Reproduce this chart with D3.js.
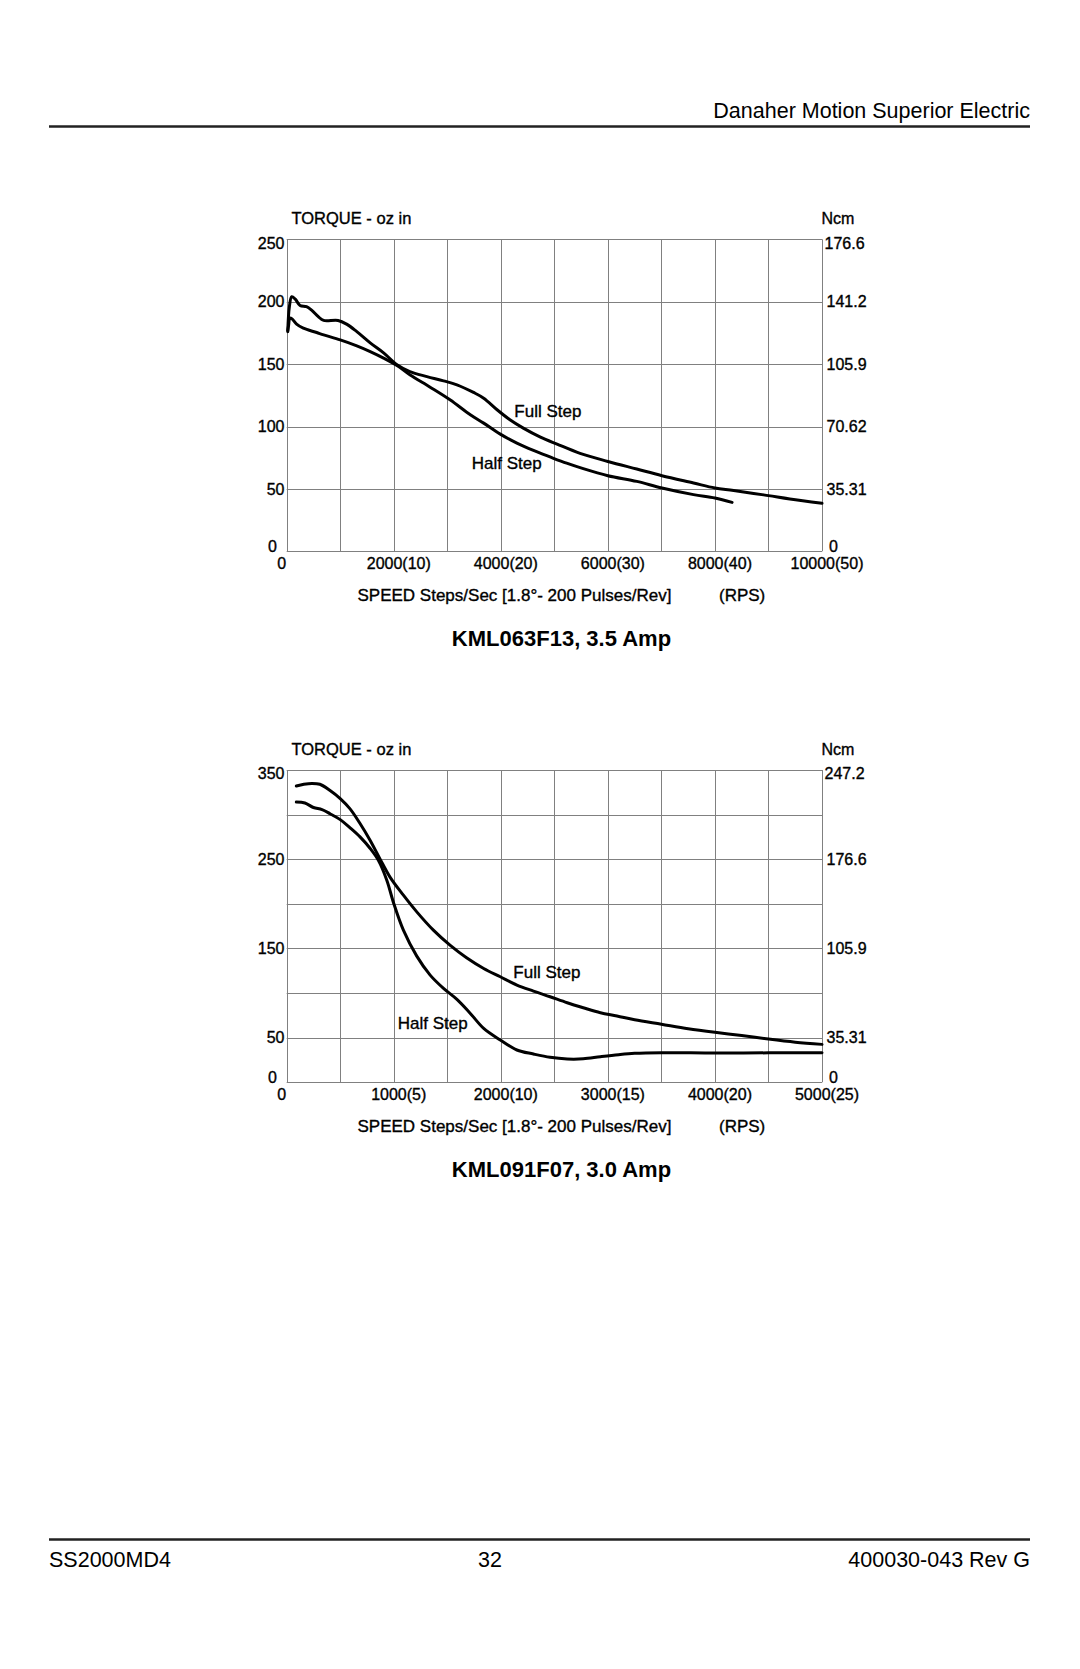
<!DOCTYPE html>
<html>
<head>
<meta charset="utf-8">
<script src="https://cdn.jsdelivr.net/npm/d3@7"></script>
<style>
  html, body { margin: 0; padding: 0; background: #fff; }
  svg { display: block; }
  text { font-family: "Liberation Sans", Arial, sans-serif; fill: #000; }
  .chart text { stroke: #000; stroke-width: 0.35px; }
  .chart text.title { stroke: none; }
</style>
</head>
<body>
<svg id="page" width="1080" height="1669"></svg>
<script>
// ---------------- DATA ----------------
const headerText = "Danaher Motion Superior Electric";
const footerLeft = "SS2000MD4";
const footerCenter = "32";
const footerRight = "400030-043 Rev G";

// Chart 1: KML063F13, 3.5 Amp
const chart1Title = "KML063F13, 3.5 Amp";
const chart1XDomain = [0, 10000];
const chart1YDomain = [0, 250];
const chart1XGrid = [0, 1000, 2000, 3000, 4000, 5000, 6000, 7000, 8000, 9000, 10000];
const chart1YGrid = [0, 50, 100, 150, 200, 250];
const chart1XTicks = [0, 2000, 4000, 6000, 8000, 10000];
const chart1XTickLabels = ["0", "2000(10)", "4000(20)", "6000(30)", "8000(40)", "10000(50)"];
const chart1YTicks = [0, 50, 100, 150, 200, 250];
const chart1YTickLabels = ["0", "50", "100", "150", "200", "250"];
const chart1NcmLabels = ["0", "35.31", "70.62", "105.9", "141.2", "176.6"];
const chart1FullStep = [
  [20,176],[50,196],[95,204],[160,202],[250,197],[370,196],[470,193],[590,188],[690,185],
  [960,185],[1120,182],[1310,176],[1560,167],[1810,159],[2060,149.5],[2300,144],[2620,140],
  [2930,136.6],[3180,133.4],[3490,127.3],[3680,122.7],[3930,113.4],[4170,105.4],[4420,98.7],
  [4740,91.5],[5050,85.9],[5480,78.5],[6000,72],[6540,65.9],[7010,60.6],[7600,54.7],
  [8000,50.7],[8350,48.8],[9000,44.6],[9400,41.9],[10000,38.5]
];
const chart1HalfStep = [
  [20,177],[35,181],[60,187],[105,186],[185,182],[310,178.8],[560,175.3],[690,173.4],
  [1000,169.4],[1310,164.6],[1560,160],[1810,154.8],[2060,148.9],[2300,141.4],[2680,131.5],
  [3050,121.4],[3430,109.4],[3680,102.7],[3990,93.9],[4300,86.7],[4610,80.8],[4920,75.6],
  [5230,70.6],[5540,66.2],[6000,60.6],[6540,56],[7010,50.7],[7600,45.4],[8000,42.7],[8320,39.2]
];

// Chart 2: KML091F07, 3.0 Amp
const chart2Title = "KML091F07, 3.0 Amp";
const chart2XDomain = [0, 5000];
const chart2YDomain = [0, 350];
const chart2XGrid = [0, 500, 1000, 1500, 2000, 2500, 3000, 3500, 4000, 4500, 5000];
const chart2YGrid = [0, 50, 100, 150, 200, 250, 300, 350];
const chart2XTicks = [0, 1000, 2000, 3000, 4000, 5000];
const chart2XTickLabels = ["0", "1000(5)", "2000(10)", "3000(15)", "4000(20)", "5000(25)"];
const chart2YTicks = [0, 50, 150, 250, 350];
const chart2YTickLabels = ["0", "50", "150", "250", "350"];
const chart2NcmLabels = ["0", "35.31", "105.9", "176.6", "247.2"];
const chart2FullStep = [
  [90,332],[160,334],[235,335],[310,334],[405,327],[500,318],[590,306.7],[685,290],[780,271],
  [870,250.7],[965,230],[1090,209.7],[1215,191],[1370,170.5],[1525,153.7],[1680,139.6],
  [1840,127.6],[1995,118.3],[2150,109],[2305,102.2],[2460,95.9],[2620,89.2],[2770,83.6],
  [2930,78],[3085,74.3],[3250,70],[3500,65],[3750,60],[4000,56],[4250,52.5],[4500,48.5],
  [4750,45],[5000,42.5]
];
const chart2HalfStep = [
  [90,314],[170,313],[250,308],[330,305.6],[405,301],[500,294.4],[590,285.4],[685,275],
  [780,262],[855,249],[935,226.5],[1000,200.4],[1090,170.5],[1215,141.4],[1340,120.1],
  [1465,105.2],[1590,92.9],[1715,77.2],[1840,60.4],[1995,47.4],[2150,36.2],[2305,31.7],
  [2460,28],[2620,26.1],[2770,26.3],[2930,28.7],[3100,31],[3250,32.5],[3500,33.2],
  [4000,32.8],[4500,33],[5000,33]
];

const yAxisTitle = "TORQUE - oz in";
const yAxisRightTitle = "Ncm";
const xAxisTitle = "SPEED Steps/Sec [1.8°- 200 Pulses/Rev]";
const xAxisUnit = "(RPS)";
const fullStepLabel = "Full Step";
const halfStepLabel = "Half Step";

// ---------------- LAYOUT ----------------
const svg = d3.select("#page");
const gridColor = "#808080";

// Header / footer
svg.append("text").attr("x", 1030).attr("y", 118).attr("text-anchor", "end")
  .style("font-size", "21.5px").text(headerText);
svg.append("line").attr("x1", 49).attr("x2", 1030).attr("y1", 126.5).attr("y2", 126.5)
  .attr("stroke", "#222").attr("stroke-width", 2.5);
svg.append("line").attr("x1", 49).attr("x2", 1030).attr("y1", 1539.5).attr("y2", 1539.5)
  .attr("stroke", "#222").attr("stroke-width", 2.5);
svg.append("text").attr("x", 49).attr("y", 1566.5).style("font-size", "21.5px").text(footerLeft);
svg.append("text").attr("x", 490).attr("y", 1566.5).attr("text-anchor", "middle").style("font-size", "21.5px").text(footerCenter);
svg.append("text").attr("x", 1030).attr("y", 1566.5).attr("text-anchor", "end").style("font-size", "21.5px").text(footerRight);

function drawChart(cfg) {
  const left = 286.7, right = 822, top = cfg.top, bottom = cfg.bottom;
  const x = d3.scaleLinear().domain(cfg.xDomain).range([left, right]);
  const y = d3.scaleLinear().domain(cfg.yDomain).range([bottom, top]);
  const g = svg.append("g").attr("class", "chart");

  // grid
  g.selectAll("line.vg").data(cfg.xGrid).enter().append("line")
    .attr("x1", d => Math.round(x(d)) + 0.5).attr("x2", d => Math.round(x(d)) + 0.5)
    .attr("y1", top).attr("y2", bottom)
    .attr("stroke", gridColor).attr("stroke-width", 1);
  g.selectAll("line.hg").data(cfg.yGrid).enter().append("line")
    .attr("x1", left).attr("x2", right)
    .attr("y1", d => Math.round(y(d)) + 0.5).attr("y2", d => Math.round(y(d)) + 0.5)
    .attr("stroke", gridColor).attr("stroke-width", 1);

  const ymax = cfg.yDomain[1];
  // left tick labels
  g.selectAll("text.yl").data(cfg.yTicks).enter().append("text")
    .attr("x", d => d === 0 ? 277 : 284.5)
    .attr("y", d => y(d) + (d === ymax ? 3.5 : d === 0 ? -4.8 : 0))
    .attr("dy", "0.36em")
    .attr("text-anchor", "end").style("font-size", "16px")
    .text((d, i) => cfg.yTickLabels[i]);
  // right tick labels
  g.selectAll("text.yr").data(cfg.yTicks).enter().append("text")
    .attr("x", (d) => right + (d === 0 ? 7 : d === ymax ? 2.5 : 4.5))
    .attr("y", d => y(d) + (d === ymax ? 3.5 : d === 0 ? -4.8 : 0))
    .attr("dy", "0.36em")
    .style("font-size", "16px")
    .text((d, i) => cfg.ncmLabels[i]);
  // x tick labels
  g.selectAll("text.xl").data(cfg.xTicks).enter().append("text")
    .attr("x", d => x(d) + (d === 0 ? -5 : 5))
    .attr("y", bottom + 12).attr("dy", "0.36em")
    .attr("text-anchor", "middle").style("font-size", "16px")
    .text((d, i) => cfg.xTickLabels[i]);

  // axis titles
  g.append("text").attr("x", 291.5).attr("y", top - 21).attr("dy", "0.36em")
    .style("font-size", "16.5px").text(yAxisTitle);
  g.append("text").attr("x", 821.5).attr("y", top - 21).attr("dy", "0.36em")
    .style("font-size", "16px").text(yAxisRightTitle);
  g.append("text").attr("x", 357.5).attr("y", bottom + 43.5).attr("dy", "0.36em")
    .style("font-size", "17px").text(xAxisTitle);
  g.append("text").attr("x", 719).attr("y", bottom + 43.5).attr("dy", "0.36em")
    .style("font-size", "17px").text(xAxisUnit);
  g.append("text").attr("class", "title").attr("x", 561.5).attr("y", bottom + 87).attr("dy", "0.36em")
    .attr("text-anchor", "middle").style("font-size", "22px").style("font-weight", "bold")
    .text(cfg.title);

  // curves
  const line = d3.line().x(d => x(d[0])).y(d => y(d[1])).curve(d3.curveCatmullRom.alpha(0.5));
  [cfg.full, cfg.half].forEach(s => {
    g.append("path").datum(s).attr("d", line)
      .attr("fill", "none").attr("stroke", "#000").attr("stroke-width", 3)
      .attr("stroke-linejoin", "round").attr("stroke-linecap", "round");
  });

  // curve labels
  g.append("text").attr("x", cfg.fullLabel[0]).attr("y", cfg.fullLabel[1]).attr("dy", "0.36em")
    .style("font-size", "17px").text(fullStepLabel);
  g.append("text").attr("x", cfg.halfLabel[0]).attr("y", cfg.halfLabel[1]).attr("dy", "0.36em")
    .style("font-size", "17px").text(halfStepLabel);
}

drawChart({
  top: 239.3, bottom: 551.3,
  xDomain: chart1XDomain, yDomain: chart1YDomain,
  xGrid: chart1XGrid, yGrid: chart1YGrid,
  xTicks: chart1XTicks, xTickLabels: chart1XTickLabels,
  yTicks: chart1YTicks, yTickLabels: chart1YTickLabels, ncmLabels: chart1NcmLabels,
  full: chart1FullStep, half: chart1HalfStep, title: chart1Title,
  fullLabel: [514.3, 410.7], halfLabel: [471.7, 463.3]
});
drawChart({
  top: 770, bottom: 1082.3,
  xDomain: chart2XDomain, yDomain: chart2YDomain,
  xGrid: chart2XGrid, yGrid: chart2YGrid,
  xTicks: chart2XTicks, xTickLabels: chart2XTickLabels,
  yTicks: chart2YTicks, yTickLabels: chart2YTickLabels, ncmLabels: chart2NcmLabels,
  full: chart2FullStep, half: chart2HalfStep, title: chart2Title,
  fullLabel: [513.3, 971.7], halfLabel: [397.7, 1023.3]
});
</script>
</body>
</html>
